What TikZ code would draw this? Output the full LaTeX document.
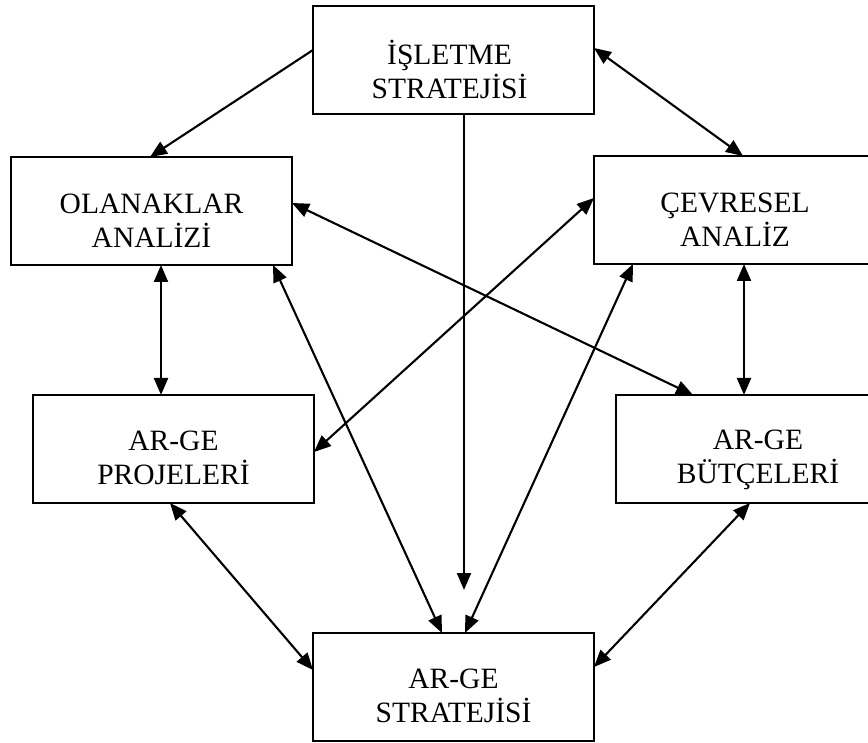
\documentclass[tikz,border=0pt]{standalone}
\usepackage{fontspec}
\setmainfont{Liberation Serif}
\usetikzlibrary{arrows.meta,calc}
\tikzset{
  box/.style={draw=black, line width=1.8pt, minimum width=281pt, minimum height=108pt, inner sep=0pt, outer sep=0pt, anchor=north west},
  txt/.style={align=center, inner sep=0pt, font=\fontsize{29.5}{34}\selectfont},
  tip/.style={Triangle[length=17pt,width=14pt]},
  conn/.style={line width=2.1pt, -{Triangle[length=17pt,width=14pt]}},
  dconn/.style={line width=2.1pt, {Triangle[length=17pt,width=14pt]}-{Triangle[length=17pt,width=14pt]}}
}
\begin{document}
\begin{tikzpicture}[x=1pt,y=-1pt]
\fill[white] (0,0) rectangle (868,743);
\clip (0,0) rectangle (868,743);
% boxes
\node[box] (top) at (313,6) {};
\node[box] (olan) at (11,157) {};
\node[box] (cevre) at (594,156) {};
\node[box] (proj) at (33,395) {};
\node[box] (butce) at (616,395) {};
\node[box] (arge) at (313,633) {};
% texts
\node[txt] (ttop) at ($(top.center)+(-4,9)$) {İŞLETME\\STRATEJİSİ};
\node[txt] (tolan) at ($(olan.center)+(0,10)$) {OLANAKLAR\\ANALİZİ};
\node[txt] (tcevre) at ($(cevre.center)+(0.5,9.5)$) {ÇEVRESEL\\ANALİZ};
\node[txt] (tproj) at ($(proj.center)+(0,9)$) {AR-GE\\PROJELERİ};
\node[txt] (tbutce) at ($(butce.center)+(1.5,11)$) {AR-GE\\BÜTÇELERİ};
\node[txt] (targe) at ($(arge.center)+(0,9)$) {AR-GE\\STRATEJİSİ};
% connectors
\coordinate (tipv) at (464,590);
\draw[conn] ($(top.north west)+(0,44)$) -- ($(olan.north west)+(139,0)$);
\draw[dconn] ($(top.north east)+(0,42)$) -- ($(cevre.north west)+(149,0)$);
\draw[conn] ($(top.south west)+(151,0)$) -- (tipv);
\draw[dconn] ($(olan.north east)+(0,46)$) -- ($(butce.north west)+(77,0)$);
\draw[dconn] ($(cevre.north west)+(0,42)$) -- ($(proj.north east)+(0,57)$);
\draw[dconn] ($(olan.south west)+(150,0)$) -- ($(proj.north west)+(128,0)$);
\draw[dconn] ($(cevre.south west)+(150,0)$) -- ($(butce.north west)+(128,0)$);
\draw[dconn] ($(olan.south west)+(262,0)$) -- ($(arge.north west)+(129,0)$);
\draw[dconn] ($(cevre.south west)+(39,0)$) -- ($(arge.north west)+(152,0)$);
\draw[dconn] ($(proj.south west)+(137,0)$) -- ($(arge.north west)+(0,37)$);
\draw[dconn] ($(butce.south west)+(134,0)$) -- ($(arge.north east)+(0,34)$);
\end{tikzpicture}
\end{document}
